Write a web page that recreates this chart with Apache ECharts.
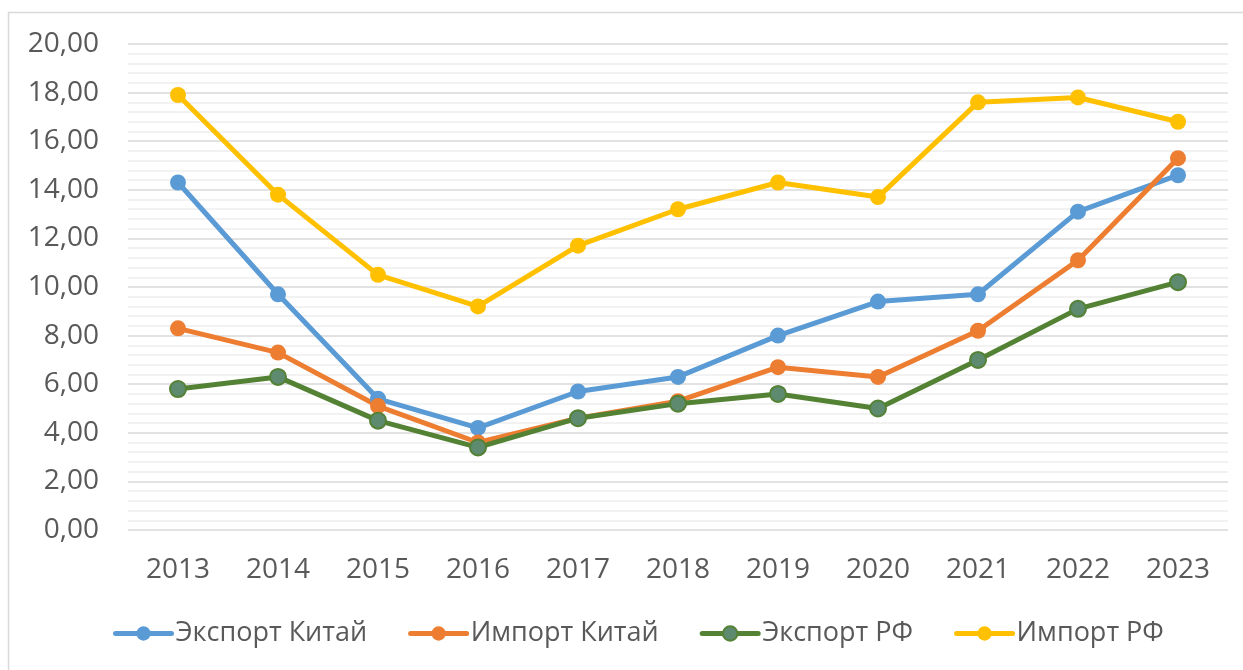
<!DOCTYPE html>
<html>
<head>
<meta charset="utf-8">
<script src="https://cdn.jsdelivr.net/npm/echarts@6/dist/echarts.min.js"></script>
<style>
  html, body { margin: 0; padding: 0; background: #fff; }
  #chart { width: 1243px; height: 670px; }
</style>
</head>
<body>
<div id="chart"></div>
<script>
// Years on the category axis
const years = ['2013', '2014', '2015', '2016', '2017', '2018', '2019', '2020', '2021', '2022', '2023'];

// Series values
const exportChina = [14.3, 9.7, 5.4, 4.2, 5.7, 6.3, 8.0, 9.4, 9.7, 13.1, 14.6];
const importChina = [8.3, 7.3, 5.1, 3.6, 4.6, 5.3, 6.7, 6.3, 8.2, 11.1, 15.3];
const exportRF = [5.8, 6.3, 4.5, 3.4, 4.6, 5.2, 5.6, 5.0, 7.0, 9.1, 10.2];
const importRF = [17.9, 13.8, 10.5, 9.2, 11.7, 13.2, 14.3, 13.7, 17.6, 17.8, 16.8];

const seriesNames = ['Экспорт Китай', 'Импорт Китай', 'Экспорт РФ', 'Импорт РФ'];

const FONT = '"Open Sans", "Liberation Sans", sans-serif';
const TEXT = '#595959';

function lineSeries(name, data, color, fill) {
  return {
    name: name,
    type: 'line',
    data: data,
    symbol: 'circle',
    symbolSize: 16,
    lineStyle: { color: color, width: 5, cap: 'round', join: 'round' },
    itemStyle: { color: fill || color, borderColor: color, borderWidth: fill ? 2 : 0 },
    emphasis: { disabled: true },
    z: 3
  };
}

const chart = echarts.init(document.getElementById('chart'), null, { renderer: 'canvas' });
chart.setOption({
  animation: false,
  backgroundColor: '#fff',
  graphic: [{
    type: 'rect',
    shape: { x: 8.5, y: 12.5, width: 1250, height: 680 },
    style: { fill: 'none', stroke: '#d9d9d9', lineWidth: 1.5 },
    silent: true
  }],
  grid: { left: 128, right: 15, top: 44, bottom: 140, containLabel: false },
  xAxis: {
    type: 'category',
    data: years,
    boundaryGap: true,
    axisLine: { show: false },
    axisTick: { show: false },
    axisLabel: { color: TEXT, fontFamily: FONT, fontSize: 28, margin: 26 }
  },
  yAxis: {
    type: 'value',
    min: 0,
    max: 20,
    interval: 2,
    axisLine: { show: false },
    axisTick: { show: false },
    axisLabel: {
      color: TEXT, fontFamily: FONT, fontSize: 28, margin: 29,
      formatter: v => v.toFixed(2).replace('.', ',')
    },
    splitLine: { show: true, lineStyle: { color: '#d9d9d9', width: 1.5 } },
    minorTick: { show: false, splitNumber: 5 },
    minorSplitLine: { show: true, lineStyle: { color: '#eeeeee', width: 1.5 } }
  },
  legend: {
    data: seriesNames,
    bottom: 23,
    left: 113,
    padding: 0,
    itemWidth: 56,
    itemHeight: 18,
    itemGap: 41,
    lineStyle: { width: 5, cap: 'round' },
    textStyle: { color: TEXT, fontFamily: FONT, fontSize: 27, padding: [0, 0, 0, -1] }
  },
  series: [
    lineSeries(seriesNames[0], exportChina, '#5B9BD5'),
    lineSeries(seriesNames[1], importChina, '#ED7D31'),
    lineSeries(seriesNames[2], exportRF, '#548235', '#5E8A6F'),
    lineSeries(seriesNames[3], importRF, '#FFC000')
  ]
});
</script>
</body>
</html>
